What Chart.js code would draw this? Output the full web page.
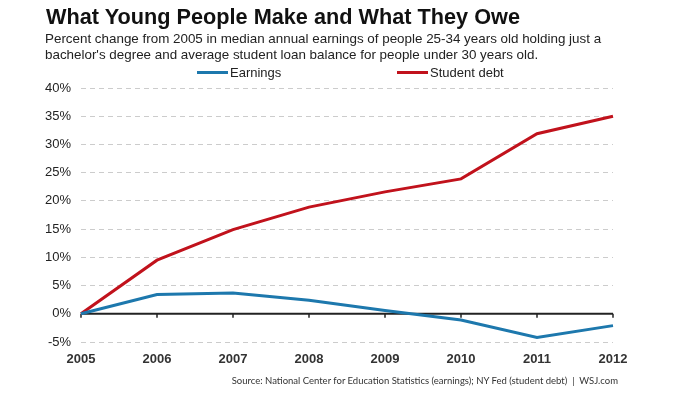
<!DOCTYPE html>
<html>
<head>
<meta charset="utf-8">
<script src="https://cdn.jsdelivr.net/npm/chart.js@4"></script>
<style>
  body { margin: 0; background: #fff; }
  #wrap { position: relative; width: 680px; height: 406px; font-family: "Liberation Sans", Arial, sans-serif; }
  #title { position: absolute; left: 46px; top: 4px; font-size: 21.7px; font-weight: bold; color: #111; }
  #sub { position: absolute; left: 45px; top: 31px; font-size: 13.4px; line-height: 16px; color: #222; }
  #legend { position: absolute; top: 65px; left: 0; width: 680px; font-size: 13px; color: #222; }
  .item { position: absolute; top: 0; }
  .sw { display: inline-block; width: 31px; height: 3px; vertical-align: middle; margin-right: 2px; position: relative; top: -1px; }
  #source { position: absolute; right: 62px; top: 375px; font-family: Lato, sans-serif; font-size: 9.5px; color: #333; }
  canvas { position: absolute; left: 0; top: 0; }
</style>
</head>
<body>
<div id="wrap">
  <canvas id="myChart" width="680" height="406"></canvas>
  <div id="title">What Young People Make and What They Owe</div>
  <div id="sub">Percent change from 2005 in median annual earnings of people 25-34 years old holding just a<br>bachelor's degree and average student loan balance for people under 30 years old.</div>
  <div id="legend"></div>
  <div id="source">Source: National Center for Education Statistics (earnings); NY Fed (student debt) &nbsp;|&nbsp; WSJ.com</div>
</div>
<script>
// data
let years = ['2005', '2006', '2007', '2008', '2009', '2010', '2011', '2012']
let earnings = [0, 3.4, 3.7, 2.4, 0.6, -1.1, -4.2, -2.1]
let studentDebt = [0, 9.5, 14.9, 18.9, 21.6, 23.9, 31.9, 35.0]
let seriesNames = ['Earnings', 'Student debt']
let seriesColors = ['#1d78ad', '#c1121c']

// html legend
let legendLeft = [197, 397]
let leg = document.getElementById('legend')
seriesNames.forEach((name, i) => {
  let d = document.createElement('div')
  d.className = 'item'
  d.style.left = legendLeft[i] + 'px'
  d.innerHTML = '<span class="sw" style="background:' + seriesColors[i] + '"></span>' + name
  leg.appendChild(d)
})

// zero line with little ticks under each year
const zeroLine = {
  id: 'zeroLine',
  beforeDatasetsDraw(chart) {
    let ctx = chart.ctx
    let y0 = chart.scales.y.getPixelForValue(0)
    let xs = chart.scales.x
    ctx.save()
    ctx.strokeStyle = '#222'
    ctx.lineWidth = 2
    ctx.beginPath()
    ctx.moveTo(chart.chartArea.left, y0)
    ctx.lineTo(chart.chartArea.right, y0)
    ctx.stroke()
    ctx.lineWidth = 1.5
    years.forEach((yr, i) => {
      let x = xs.getPixelForValue(i)
      ctx.beginPath()
      ctx.moveTo(x, y0)
      ctx.lineTo(x, y0 + 4)
      ctx.stroke()
    })
    ctx.restore()
  }
}

let ctx = document.getElementById('myChart').getContext('2d')
let myChart = new Chart(ctx, {
  type: 'line',
  data: {
    labels: years,
    datasets: [{
      label: seriesNames[0],
      data: earnings,
      borderColor: seriesColors[0],
      borderWidth: 3,
      pointRadius: 0,
      fill: false,
      tension: 0
    }, {
      label: seriesNames[1],
      data: studentDebt,
      borderColor: seriesColors[1],
      borderWidth: 3,
      pointRadius: 0,
      fill: false,
      tension: 0
    }]
  },
  options: {
    responsive: false,
    animation: false,
    layout: { padding: { top: 88, right: 67, bottom: 40, left: 0 } },
    plugins: { legend: { display: false }, tooltip: { enabled: false } },
    scales: {
      x: {
        offset: false,
        grid: { display: false },
        border: { display: false },
        ticks: { color: '#333', font: { family: 'Liberation Sans', size: 13, weight: 'bold' }, padding: 2, maxRotation: 0 },
        afterFit: s => { s.height = 24 }
      },
      y: {
        min: -5,
        max: 40,
        ticks: { stepSize: 5, callback: v => v + '%', color: '#222', font: { family: 'Liberation Sans', size: 13 }, padding: 10 },
        grid: { color: v => v.tick.value === 0 ? 'rgba(0,0,0,0)' : '#cccccc', lineWidth: 1, drawTicks: false },
        border: { display: false, dash: [5, 4] },
        afterFit: s => { s.width = 81 }
      }
    }
  },
  plugins: [zeroLine]
})
</script>
</body>
</html>
